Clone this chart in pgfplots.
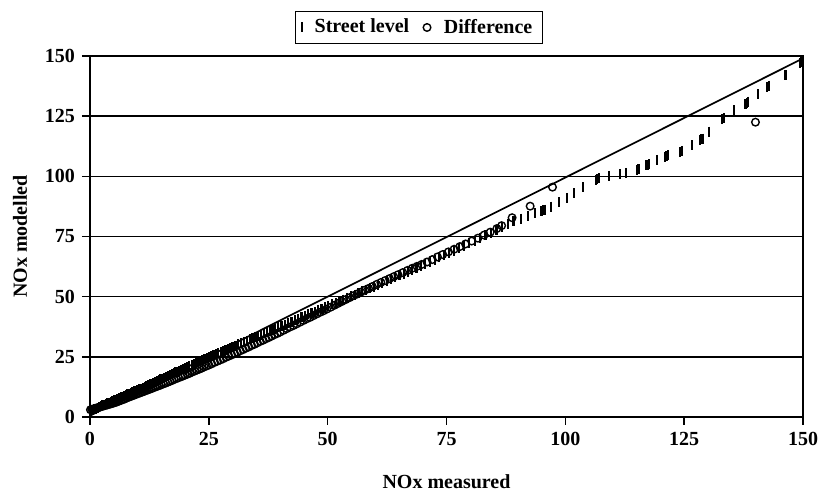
\documentclass[border=0pt]{standalone}
\usepackage{fontspec}
\setmainfont{Liberation Serif}
\usepackage{pgfplots}
\pgfplotsset{compat=1.18}
\begin{document}
\begin{tikzpicture}
\path[use as bounding box] (-45pt,-37pt) rectangle (365pt,208.5pt);
\begin{axis}[
  scale only axis, width=356.5pt, height=180.5pt,
  at={(0,0)}, anchor=south west,
  xmin=0, xmax=150, ymin=0, ymax=150,
  xtick={0,25,...,150}, ytick={0,25,...,150},
  xtick pos=bottom, ytick pos=left,
  tick align=outside, major tick length=4pt,
  tick style={black, line width=0.75pt},
  ymajorgrids, grid style={black, line width=0.75pt},
  axis line style={black, line width=0.75pt},
  every tick label/.append style={font=\bfseries\fontsize{10}{12}\selectfont},
  /pgf/number format/assume math mode=true,
  xlabel={NOx measured}, ylabel={NOx modelled},
  label style={font=\bfseries\fontsize{10}{12}\selectfont},
  xlabel style={at={(axis description cs:0.5,-0.18)}, anchor=center},
  ylabel style={at={(axis description cs:-0.098,0.5)}, anchor=center},
  legend columns=2,
  legend style={at={(0.4614,1.079)}, anchor=center, draw=black, line width=0.5pt,
    font=\bfseries\fontsize{10}{12}\selectfont, inner xsep=3pt, inner ysep=1.5pt,
    /tikz/every odd column/.append style={column sep=4.5pt},
    /tikz/every even column/.append style={column sep=5pt}},
  legend cell align=left,
]
\addplot[black, line width=0.85pt, forget plot] coordinates {(0,0.5) (150,149)};
\addplot[only marks, mark=|, mark size=2.5pt, mark options={line width=1.1pt, black}] coordinates {
(0.2,2.7) (0.5,2.9) (0.9,3.3) (1.2,3.5) (1.6,3.9) (1.9,4.2) (2.3,4.5) (2.6,4.8)
(3.0,5.1) (3.3,5.4) (3.7,5.7) (4.0,6.0) (4.4,6.3) (4.7,6.6) (5.1,6.9) (5.4,7.2)
(5.8,7.5) (6.1,7.8) (6.5,8.2) (6.8,8.4) (7.2,8.8) (7.5,9.0) (7.9,9.4) (8.2,9.6)
(8.6,10.0) (8.9,10.2) (9.3,10.6) (9.6,10.9) (10.0,11.2)
(10.4,11.6) (10.7,11.8) (11.1,12.2) (11.5,12.6) (11.8,12.8) (12.2,13.2) (12.6,13.6)
(13.0,13.9) (13.3,14.2) (13.7,14.6) (14.1,14.9) (14.5,15.3) (14.8,15.6) (15.2,15.9)
(15.6,16.3) (16.0,16.7) (16.4,17.0) (16.8,17.4) (17.2,17.8) (17.6,18.1) (18.0,18.5)
(18.4,18.9) (18.8,19.2) (19.2,19.6) (19.6,19.9) (20.0,20.3)
(20.5,20.7) (20.9,21.1) (21.4,21.5) (21.8,21.9) (22.3,22.3) (22.7,22.7) (23.2,23.1)
(23.6,23.5) (24.1,23.9) (24.6,24.4) (25.0,24.8) (25.5,25.2) (26.0,25.6) (26.5,26.1)
(27.0,26.5) (27.5,27.0) (28.0,27.4) (28.5,27.9) (29.0,28.3) (29.5,28.8) (30.0,29.2)
(30.6,29.7) (31.2,30.2) (31.8,30.7) (32.4,31.2) (33.0,31.7) (33.6,32.2) (34.2,32.7)
(34.8,33.2) (35.4,33.7) (36.0,34.2) (36.6,34.7) (37.2,35.2) (37.8,35.7) (38.4,36.2)
(39.0,36.7) (39.6,37.3)
(40.3,37.9) (41.0,38.4) (41.7,39.0) (42.4,39.6) (43.1,40.2) (43.8,40.8) (44.5,41.4)
(45.2,42.0) (45.9,42.6) (46.6,43.1) (47.3,43.7) (48.0,44.3) (48.7,44.9) (49.4,45.5)
(50.1,46.1) (50.9,46.8) (51.7,47.4) (52.5,48.1) (53.3,48.8) (54.1,49.5) (54.9,50.2)
(55.7,50.8) (56.5,51.5) (57.3,52.2) (58.1,52.9) (58.9,53.6) (59.7,54.2)
(60.6,55.0) (61.5,55.8) (62.4,56.5) (63.3,57.3) (64.2,58.1) (65.1,58.8) (66.0,59.6)
(66.9,60.4) (67.8,61.1) (68.7,61.9) (69.6,62.7)
(70.5,63.5) (71.5,64.4) (72.5,65.3) (73.5,66.3) (74.5,67.2) (75.5,68.1) (76.5,69.0)
(77.6,70.1) (78.7,71.1) (79.8,72.1)
(81.0,73.3) (82.1,74.4) (83.2,75.5) (84.3,76.6) (85.5,77.8) (86.7,79.0) (87.9,80.2)
(89.1,81.4) (90.6,82.4) (92.2,83.6) (93.6,84.7) (95.0,85.6) (95.3,85.9) (95.6,86.2)
(97.0,87.4) (98.6,89.2) (100.3,91.0) (101.9,93.0) (103.8,95.5) (106.4,98.5)
(106.7,98.9) (107.0,99.3) (109.2,100.2) (111.5,100.9) (112.8,101.4) (115.1,102.6)
(115.4,102.9) (117.0,104.5) (117.3,104.8) (117.6,105.1) (119.3,106.8) (121.0,108.0)
(121.3,108.4) (121.6,108.7) (124.2,110.3) (124.5,110.6) (126.7,113.0) (128.3,115.0)
(128.6,115.4) (128.9,115.7) (130.2,118.6) (133.0,123.8) (133.3,124.1) (135.5,127.5)
(137.9,130.2) (138.2,130.6) (138.5,131.0) (140.6,134.0) (142.5,137.3) (142.8,137.7)
(146.3,142.0) (149.3,147.2) (149.6,147.6) (149.9,148.0)
};
\addlegendentry{Street level}
\addplot[only marks, mark=o, mark size=1.9pt, mark options={line width=0.7pt, black}] coordinates {
(0.1,3.0) (0.4,3.2) (0.8,3.4) (1.1,3.6) (1.5,3.8) (1.8,4.0) (2.2,4.2) (2.5,4.4)
(2.9,4.6) (3.2,4.8) (3.6,5.0) (3.9,5.2) (4.3,5.4) (4.6,5.6)
(5.0,5.8) (5.4,6.1) (5.7,6.3) (6.1,6.6) (6.5,6.9) (6.9,7.2) (7.3,7.5) (7.7,7.9)
(8.1,8.2) (8.5,8.5) (8.9,8.8) (9.3,9.1) (9.7,9.4)
(10.1,9.7) (10.5,10.0) (10.9,10.3) (11.3,10.6) (11.7,10.9) (12.1,11.2) (12.5,11.5)
(12.9,11.8) (13.3,12.1) (13.8,12.5) (14.2,12.8) (14.6,13.1)
(15.0,13.4) (15.5,13.8) (15.9,14.1) (16.4,14.5) (16.8,14.8) (17.3,15.2) (17.7,15.6)
(18.2,16.0) (18.6,16.3) (19.1,16.7) (19.5,17.0) (20.0,17.4)
(20.5,17.8) (21.0,18.2) (21.5,18.7) (22.0,19.1) (22.5,19.5) (23.0,19.9) (23.5,20.3)
(24.0,20.8) (24.5,21.2)
(25.0,21.6) (25.6,22.1) (26.2,22.7) (26.8,23.2) (27.4,23.7) (28.0,24.2) (28.6,24.8)
(29.2,25.3) (29.8,25.8)
(30.4,26.4) (31.0,26.9) (31.6,27.5) (32.2,28.0) (32.8,28.6) (33.4,29.1) (34.0,29.7)
(34.6,30.2)
(35.2,30.8) (35.8,31.4) (36.4,31.9) (37.0,32.5) (37.6,33.0) (38.2,33.6) (38.8,34.2)
(39.4,34.7)
(40.0,35.3) (40.7,36.0) (41.4,36.7) (42.1,37.4) (42.8,38.0) (43.5,38.7) (44.2,39.4)
(44.9,40.1)
(45.6,40.8) (46.3,41.4) (47.0,42.1) (47.7,42.8) (48.4,43.5) (49.1,44.1) (49.8,44.8)
(50.6,45.6) (51.4,46.4) (52.2,47.2) (53.0,48.0) (53.8,48.8) (54.6,49.6)
(55.4,50.4) (56.2,51.1) (57.0,51.9) (57.8,52.7) (58.6,53.4) (59.4,54.2)
(60.3,55.1) (61.2,55.9) (62.1,56.7) (63.0,57.5) (63.9,58.3) (64.8,59.1)
(65.8,60.0) (66.8,60.9) (67.8,61.8) (68.8,62.6) (69.8,63.4)
(70.9,64.4) (72.0,65.4) (73.1,66.5) (74.2,67.5)
(75.4,68.6) (76.6,69.7) (77.8,70.8) (79.0,71.9)
(80.3,73.1) (81.6,74.3) (82.9,75.6) (84.2,76.8) (85.6,78.3) (86.6,79.5)
(88.8,82.8) (92.6,87.6) (97.3,95.5) (140.0,122.5)
};
\addlegendentry{Difference}
\end{axis}
\end{tikzpicture}
\end{document}
